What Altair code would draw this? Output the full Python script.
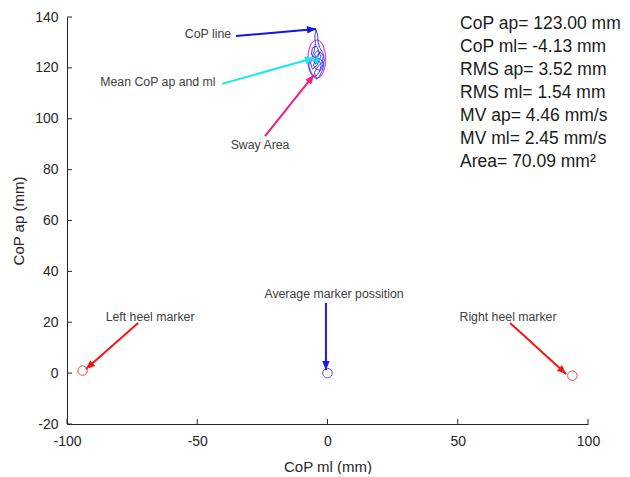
import math
import altair as alt
import pandas as pd

# ---------------- data ----------------
# CoP trajectory
trace_x = [-4.2, -5.0, -3.5, -2.6, -4.0, -5.8, -6.5, -5.2, -4.6, -4.9, -4.4, -3.8, -3.6, -3.0,
           -1.8, -1.2, -2.2, -3.4, -4.8, -6.0, -7.2, -6.8, -5.6, -4.5, -3.2, -2.4, -3.0, -4.4,
           -5.4, -4.0, -2.8, -1.6, -2.0, -3.6, -5.0, -4.2, -3.0, -2.2, -1.4, -2.6, -4.6, -6.2,
           -5.8, -4.2, -3.2, -4.1]
trace_y = [123.0, 125.5, 127.0, 124.5, 121.0, 119.5, 122.0, 126.5, 129.5, 132.5, 135.0, 133.0,
           130.0, 128.0, 126.0, 123.0, 120.0, 118.0, 116.5, 117.5, 120.5, 124.0, 123.0, 121.5,
           122.8, 121.0, 119.0, 119.5, 121.0, 124.8, 126.3, 124.6, 122.2, 120.6, 118.2, 115.5,
           116.8, 118.6, 121.2, 123.4, 123.8, 125.2, 127.8, 128.6, 126.0, 123.2]

mean_ml = -4.13
mean_ap = 123.0
ellipse_center = (-4.13, 123.5)

# markers
marker_names = ["Left heel", "Average", "Right heel"]
marker_x = [-94.0, 0.0, 94.0]
marker_y = [1.0, 0.0, -1.0]
marker_colors = ["#e8474c", "#5555dd", "#e8474c"]

# annotation arrows (tail -> head, in data units)
arrow_x1 = [-35.1, -40.5, -24.0, -0.6, -72.7, 70.1]
arrow_y1 = [132.5, 113.7, 93.2, 27.6, 19.7, 19.7]
arrow_x2 = [-4.4, -5.2, -5.2, -0.6, -92.7, 91.6]
arrow_y2 = [135.3, 123.9, 117.2, 1.2, 1.6, -0.3]
arrow_colors = ["#1414e0", "#17e8f5", "#ee1c84", "#1a1aee", "#f51515", "#f51515"]

# annotation texts
label_text = ["CoP line", "Mean CoP ap and ml", "Sway Area", "Average marker possition",
              "Left heel marker", "Right heel marker"]
label_x = [-45.9, -65.1, -25.9, 2.5, -68.1, 69.3]
label_y = [133.3, 114.5, 89.7, 31.1, 22.1, 22.1]

# statistics block
stats_text = ["CoP ap= 123.00 mm", "CoP ml= -4.13 mm", "RMS ap= 3.52 mm", "RMS ml= 1.54 mm",
              "MV ap= 4.46 mm/s", "MV ml= 2.45 mm/s", "Area= 70.09 mm\u00b2"]
stats_y = [137.2, 128.2, 119.1, 110.1, 101.0, 92.0, 83.0]
stats_x = 50.9

x_ticks = [-100, -50, 0, 50, 100]
y_ticks = [-20, 0, 20, 40, 60, 80, 100, 120, 140]

# ---------------- layout ----------------
W, H = 521, 407
XD, YD = [-100, 100], [-20, 140]
sx = W / (XD[1] - XD[0])
sy = H / (YD[1] - YD[0])
FONT = "Liberation Sans"

xs = alt.Scale(domain=XD, nice=False, zero=False)
ys = alt.Scale(domain=YD, nice=False, zero=False)

trace_df = pd.DataFrame({"x": trace_x, "y": trace_y, "o": range(len(trace_x))})
marker_df = pd.DataFrame({"name": marker_names, "x": marker_x, "y": marker_y, "c": marker_colors})

angles = []
for a, b, c, d in zip(arrow_x1, arrow_y1, arrow_x2, arrow_y2):
    dxp = (c - a) * sx
    dyp = -(d - b) * sy
    angles.append(math.degrees(math.atan2(dxp, -dyp)) % 360)
arrow_df = pd.DataFrame({"x": arrow_x1, "y": arrow_y1, "x2": arrow_x2, "y2": arrow_y2,
                         "c": arrow_colors, "ang": angles})
label_df = pd.DataFrame({"x": label_x, "y": label_y, "t": label_text})
stats_df = pd.DataFrame({"x": [stats_x] * len(stats_text), "y": stats_y, "t": stats_text})
xt_df = pd.DataFrame({"x": x_ticks, "y": [YD[0]] * len(x_ticks)})
yt_df = pd.DataFrame({"x": [XD[0]] * len(y_ticks), "y": y_ticks})
mean_df = pd.DataFrame({"x": [mean_ml], "y": [mean_ap]})
ell_df = pd.DataFrame({"x": [ellipse_center[0]], "y": [ellipse_center[1]]})

X = lambda f="x", **k: alt.X(f, type="quantitative", scale=xs, **k)
Y = lambda f="y", **k: alt.Y(f, type="quantitative", scale=ys, **k)

axis_common = dict(grid=False, ticks=False, tickSize=0, domainColor="#262626",
                   domainWidth=1, labelFont=FONT, titleFont=FONT, labelFontSize=14,
                   titleFontSize=15, labelColor="#262626", titleColor="#262626",
                   titleFontWeight="normal", labelFlush=False, labelOverlap=False,
                   labelExpr="toString(datum.value)")

axes = alt.Chart(xt_df).mark_point(opacity=0).encode(
    x=alt.X("x:Q", scale=xs, title="CoP ml (mm)",
            axis=alt.Axis(values=x_ticks, titlePadding=11, labelPadding=10, **axis_common)),
    y=alt.Y("y:Q", scale=ys, title="CoP ap (mm)",
            axis=alt.Axis(values=y_ticks, titlePadding=8, labelPadding=9, **axis_common)),
)

xticks = alt.Chart(xt_df).mark_point(shape="M0,0L0,-1", size=100, filled=False,
                                     stroke="#262626", strokeWidth=1, opacity=1).encode(x=X(), y=Y())
yticks = alt.Chart(yt_df).mark_point(shape="M0,0L1,0", size=100, filled=False,
                                     stroke="#262626", strokeWidth=1, opacity=1).encode(x=X(), y=Y())

trace = alt.Chart(trace_df).mark_line(color="#2a2af0", strokeWidth=0.9, interpolate="linear").encode(
    x=X(), y=Y(), order="o:Q")

ellipse = alt.Chart(ell_df).mark_point(
    shape="M0,-1A0.47,1,0,1,1,0,1A0.47,1,0,1,1,0,-1Z", size=1444, filled=False,
    stroke="#d846d8", strokeWidth=1.1, opacity=1).encode(x=X(), y=Y())

mean_pt = alt.Chart(mean_df).mark_point(shape="cross", size=40, filled=True, color="#18d8f0",
                                        opacity=1).encode(x=X(), y=Y())

markers = alt.Chart(marker_df).mark_point(size=90, filled=False, strokeWidth=1, opacity=1).encode(
    x=X(), y=Y(), stroke=alt.Stroke("c:N", scale=None))

arrow_lines = alt.Chart(arrow_df).mark_rule(strokeWidth=2).encode(
    x=X(), y=Y(), x2="x2:Q", y2="y2:Q", color=alt.Color("c:N", scale=None))
arrow_heads = alt.Chart(arrow_df).mark_point(
    shape="M0,0L-0.42,1L0.42,1Z", size=324, filled=True, opacity=1).encode(
    x=X("x2"), y=Y("y2"), color=alt.Color("c:N", scale=None), angle=alt.Angle("ang:Q", scale=None))

labels = alt.Chart(label_df).mark_text(font=FONT, fontSize=12.3, color="#404040",
                                       align="center", baseline="middle").encode(
    x=X(), y=Y(), text="t:N")

stats = alt.Chart(stats_df).mark_text(font=FONT, fontSize=17.5, color="#1a1a1a",
                                      align="left", baseline="middle").encode(
    x=X(), y=Y(), text="t:N")

chart = alt.layer(axes, xticks, yticks, ellipse, trace, mean_pt, markers, arrow_lines, arrow_heads,
                  labels, stats).properties(
    width=W, height=H,
    background="white",
    autosize=alt.AutoSizeParams(type="none"),
    padding={"left": 59, "top": 9, "right": 34, "bottom": 50},
).configure_view(stroke=None)

chart.save("out.html", embed_options={"renderer": "svg", "actions": False})
